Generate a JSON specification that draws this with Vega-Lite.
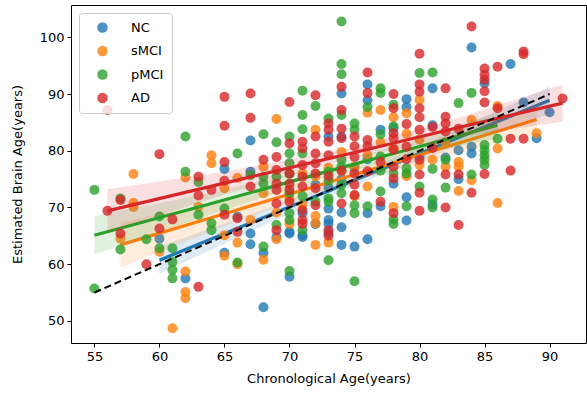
{
"$schema":"https://vega.github.io/schema/vega-lite/v6.json",
"width":515,"height":338,
"autosize":{"type":"none"},
"padding":{"left":71,"top":5,"right":1,"bottom":52},
"config":{"font":"DejaVu Sans","view":{"stroke":"black","strokeWidth":1},
"axis":{"domain":false,"grid":false,"tickColor":"black","tickSize":4,"tickWidth":1,"labelColor":"black","labelFontSize":13,"titleFontSize":13,"titleFontWeight":"normal","titleColor":"black","labelPadding":3},
"legend":{"orient":"top-left","offset":8,"padding":8,"symbolOffset":9,"labelOffset":22,"rowPadding":9.5,"symbolSize":110,"symbolOpacity":0.8,"symbolStrokeWidth":0,"symbolType":"circle","labelFontSize":13,"labelColor":"black","fillColor":"rgba(255,255,255,0.8)","strokeColor":"#cccccc","cornerRadius":3}},
"datasets":{
"pts":[
{"g":"NC","a":60,"b":64.5},{"g":"NC","a":62,"b":57.5},{"g":"NC","a":65,"b":76.8},{"g":"NC","a":65,"b":62.0},{"g":"NC","a":66,"b":68.4},{"g":"NC","a":67,"b":81.8},{"g":"NC","a":67,"b":76.3},{"g":"NC","a":67,"b":65.4},{"g":"NC","a":67,"b":63.5},{"g":"NC","a":68,"b":62.0},{"g":"NC","a":68,"b":52.4},{"g":"NC","a":69,"b":64.8},{"g":"NC","a":70,"b":65.4},{"g":"NC","a":70,"b":57.8},{"g":"NC","a":70,"b":65.7},{"g":"NC","a":71,"b":69.0},{"g":"NC","a":71,"b":64.8},{"g":"NC","a":71,"b":65.1},{"g":"NC","a":72,"b":67.1},{"g":"NC","a":72,"b":74.0},{"g":"NC","a":73,"b":82.5},{"g":"NC","a":73,"b":69.8},{"g":"NC","a":73,"b":67.8},{"g":"NC","a":73,"b":67.1},{"g":"NC","a":73,"b":73.5},{"g":"NC","a":73,"b":65.5},{"g":"NC","a":74,"b":90.1},{"g":"NC","a":74,"b":82.5},{"g":"NC","a":74,"b":69.1},{"g":"NC","a":74,"b":66.5},{"g":"NC","a":74,"b":63.4},{"g":"NC","a":74,"b":75.0},{"g":"NC","a":75,"b":63.1},{"g":"NC","a":75,"b":77.0},{"g":"NC","a":76,"b":91.7},{"g":"NC","a":76,"b":88.9},{"g":"NC","a":76,"b":69.0},{"g":"NC","a":76,"b":64.4},{"g":"NC","a":76,"b":78.5},{"g":"NC","a":77,"b":83.7},{"g":"NC","a":77,"b":70.2},{"g":"NC","a":78,"b":74.2},{"g":"NC","a":78,"b":84.0},{"g":"NC","a":79,"b":89.1},{"g":"NC","a":79,"b":87.7},{"g":"NC","a":79,"b":71.8},{"g":"NC","a":79,"b":67.7},{"g":"NC","a":80,"b":79.0},{"g":"NC","a":81,"b":91.0},{"g":"NC","a":81,"b":84.5},{"g":"NC","a":81,"b":70.5},{"g":"NC","a":82,"b":78.8},{"g":"NC","a":83,"b":80.1},{"g":"NC","a":83,"b":75.0},{"g":"NC","a":84,"b":98.2},{"g":"NC","a":84,"b":80.7},{"g":"NC","a":84,"b":79.5},{"g":"NC","a":85,"b":91.9},{"g":"NC","a":87,"b":95.3},{"g":"NC","a":88,"b":88.5},{"g":"NC","a":89,"b":82.2},{"g":"NC","a":90,"b":86.8},
{"g":"sMCI","a":57,"b":64.5},{"g":"sMCI","a":58,"b":75.9},{"g":"sMCI","a":58,"b":70.8},{"g":"sMCI","a":58,"b":70.1},{"g":"sMCI","a":60,"b":62.2},{"g":"sMCI","a":61,"b":48.7},{"g":"sMCI","a":62,"b":75.3},{"g":"sMCI","a":62,"b":58.7},{"g":"sMCI","a":62,"b":55.1},{"g":"sMCI","a":62,"b":54.0},{"g":"sMCI","a":63,"b":70.1},{"g":"sMCI","a":64,"b":79.2},{"g":"sMCI","a":64,"b":77.8},{"g":"sMCI","a":65,"b":73.4},{"g":"sMCI","a":65,"b":65.1},{"g":"sMCI","a":65,"b":61.5},{"g":"sMCI","a":66,"b":75.2},{"g":"sMCI","a":66,"b":63.8},{"g":"sMCI","a":66,"b":60.0},{"g":"sMCI","a":67,"b":67.8},{"g":"sMCI","a":68,"b":77.2},{"g":"sMCI","a":68,"b":72.5},{"g":"sMCI","a":68,"b":60.8},{"g":"sMCI","a":69,"b":85.6},{"g":"sMCI","a":69,"b":69.1},{"g":"sMCI","a":69,"b":64.4},{"g":"sMCI","a":70,"b":67.1},{"g":"sMCI","a":70,"b":71.5},{"g":"sMCI","a":71,"b":76.0},{"g":"sMCI","a":71,"b":70.5},{"g":"sMCI","a":72,"b":83.7},{"g":"sMCI","a":72,"b":68.5},{"g":"sMCI","a":72,"b":63.4},{"g":"sMCI","a":72,"b":75.5},{"g":"sMCI","a":72,"b":67.2},{"g":"sMCI","a":73,"b":77.0},{"g":"sMCI","a":73,"b":63.8},{"g":"sMCI","a":74,"b":79.8},{"g":"sMCI","a":74,"b":76.5},{"g":"sMCI","a":75,"b":77.2},{"g":"sMCI","a":75,"b":72.0},{"g":"sMCI","a":76,"b":86.7},{"g":"sMCI","a":76,"b":79.2},{"g":"sMCI","a":76,"b":73.7},{"g":"sMCI","a":77,"b":87.2},{"g":"sMCI","a":77,"b":81.5},{"g":"sMCI","a":78,"b":85.9},{"g":"sMCI","a":78,"b":80.5},{"g":"sMCI","a":78,"b":70.1},{"g":"sMCI","a":79,"b":86.6},{"g":"sMCI","a":79,"b":83.0},{"g":"sMCI","a":79,"b":75.5},{"g":"sMCI","a":80,"b":89.0},{"g":"sMCI","a":80,"b":82.0},{"g":"sMCI","a":80,"b":77.5},{"g":"sMCI","a":81,"b":78.4},{"g":"sMCI","a":82,"b":81.5},{"g":"sMCI","a":82,"b":77.2},{"g":"sMCI","a":83,"b":78.0},{"g":"sMCI","a":83,"b":77.2},{"g":"sMCI","a":83,"b":72.9},{"g":"sMCI","a":84,"b":85.4},{"g":"sMCI","a":84,"b":74.8},{"g":"sMCI","a":86,"b":87.9},{"g":"sMCI","a":86,"b":80.4},{"g":"sMCI","a":86,"b":70.8},{"g":"sMCI","a":89,"b":83.1},
{"g":"pMCI","a":55,"b":73.1},{"g":"pMCI","a":55,"b":55.7},{"g":"pMCI","a":57,"b":71.6},{"g":"pMCI","a":57,"b":62.6},{"g":"pMCI","a":59,"b":64.4},{"g":"pMCI","a":60,"b":68.4},{"g":"pMCI","a":60,"b":62.8},{"g":"pMCI","a":61,"b":62.8},{"g":"pMCI","a":61,"b":60.4},{"g":"pMCI","a":61,"b":59.0},{"g":"pMCI","a":61,"b":57.5},{"g":"pMCI","a":62,"b":82.5},{"g":"pMCI","a":62,"b":76.3},{"g":"pMCI","a":63,"b":74.5},{"g":"pMCI","a":63,"b":68.7},{"g":"pMCI","a":64,"b":67.2},{"g":"pMCI","a":64,"b":66.0},{"g":"pMCI","a":65,"b":69.8},{"g":"pMCI","a":66,"b":79.5},{"g":"pMCI","a":66,"b":60.3},{"g":"pMCI","a":67,"b":75.7},{"g":"pMCI","a":68,"b":82.9},{"g":"pMCI","a":68,"b":75.4},{"g":"pMCI","a":68,"b":74.2},{"g":"pMCI","a":68,"b":63.1},{"g":"pMCI","a":69,"b":81.5},{"g":"pMCI","a":69,"b":66.9},{"g":"pMCI","a":69,"b":75.4},{"g":"pMCI","a":70,"b":82.5},{"g":"pMCI","a":70,"b":79.5},{"g":"pMCI","a":70,"b":77.8},{"g":"pMCI","a":70,"b":72.5},{"g":"pMCI","a":70,"b":69.0},{"g":"pMCI","a":70,"b":67.8},{"g":"pMCI","a":70,"b":58.8},{"g":"pMCI","a":70,"b":75.9},{"g":"pMCI","a":71,"b":90.6},{"g":"pMCI","a":71,"b":86.3},{"g":"pMCI","a":71,"b":83.8},{"g":"pMCI","a":71,"b":79.5},{"g":"pMCI","a":71,"b":66.0},{"g":"pMCI","a":71,"b":72.0},{"g":"pMCI","a":72,"b":87.9},{"g":"pMCI","a":72,"b":71.0},{"g":"pMCI","a":73,"b":85.7},{"g":"pMCI","a":73,"b":76.3},{"g":"pMCI","a":73,"b":74.7},{"g":"pMCI","a":73,"b":71.6},{"g":"pMCI","a":73,"b":71.0},{"g":"pMCI","a":73,"b":60.7},{"g":"pMCI","a":74,"b":102.8},{"g":"pMCI","a":74,"b":95.3},{"g":"pMCI","a":74,"b":93.5},{"g":"pMCI","a":74,"b":86.3},{"g":"pMCI","a":74,"b":78.4},{"g":"pMCI","a":74,"b":77.2},{"g":"pMCI","a":74,"b":72.5},{"g":"pMCI","a":74,"b":74.0},{"g":"pMCI","a":75,"b":84.8},{"g":"pMCI","a":75,"b":83.7},{"g":"pMCI","a":75,"b":70.4},{"g":"pMCI","a":75,"b":69.0},{"g":"pMCI","a":75,"b":57.0},{"g":"pMCI","a":76,"b":87.7},{"g":"pMCI","a":76,"b":70.2},{"g":"pMCI","a":77,"b":91.0},{"g":"pMCI","a":77,"b":90.2},{"g":"pMCI","a":77,"b":82.9},{"g":"pMCI","a":77,"b":79.0},{"g":"pMCI","a":77,"b":76.5},{"g":"pMCI","a":77,"b":72.8},{"g":"pMCI","a":78,"b":88.1},{"g":"pMCI","a":78,"b":84.3},{"g":"pMCI","a":78,"b":76.0},{"g":"pMCI","a":78,"b":67.9},{"g":"pMCI","a":78,"b":67.1},{"g":"pMCI","a":79,"b":76.9},{"g":"pMCI","a":79,"b":76.0},{"g":"pMCI","a":79,"b":70.2},{"g":"pMCI","a":80,"b":93.7},{"g":"pMCI","a":80,"b":73.7},{"g":"pMCI","a":81,"b":93.8},{"g":"pMCI","a":81,"b":76.8},{"g":"pMCI","a":81,"b":71.4},{"g":"pMCI","a":81,"b":70.0},{"g":"pMCI","a":82,"b":78.4},{"g":"pMCI","a":82,"b":73.5},{"g":"pMCI","a":83,"b":88.4},{"g":"pMCI","a":84,"b":90.2},{"g":"pMCI","a":84,"b":75.8},{"g":"pMCI","a":85,"b":81.0},{"g":"pMCI","a":85,"b":80.1},{"g":"pMCI","a":85,"b":79.2},{"g":"pMCI","a":85,"b":78.4},{"g":"pMCI","a":85,"b":77.5},{"g":"pMCI","a":86,"b":82.1},
{"g":"AD","a":56,"b":87.2},{"g":"AD","a":56,"b":69.4},{"g":"AD","a":57,"b":71.3},{"g":"AD","a":57,"b":65.4},{"g":"AD","a":59,"b":60.0},{"g":"AD","a":60,"b":79.4},{"g":"AD","a":60,"b":66.3},{"g":"AD","a":61,"b":67.9},{"g":"AD","a":63,"b":75.4},{"g":"AD","a":63,"b":72.1},{"g":"AD","a":63,"b":56.0},{"g":"AD","a":64,"b":73.1},{"g":"AD","a":65,"b":89.5},{"g":"AD","a":65,"b":84.4},{"g":"AD","a":65,"b":78.0},{"g":"AD","a":65,"b":74.7},{"g":"AD","a":65,"b":68.7},{"g":"AD","a":66,"b":68.1},{"g":"AD","a":66,"b":65.7},{"g":"AD","a":67,"b":90.1},{"g":"AD","a":67,"b":85.8},{"g":"AD","a":67,"b":73.7},{"g":"AD","a":68,"b":78.4},{"g":"AD","a":69,"b":78.9},{"g":"AD","a":69,"b":76.6},{"g":"AD","a":69,"b":74.2},{"g":"AD","a":69,"b":73.1},{"g":"AD","a":69,"b":70.7},{"g":"AD","a":69,"b":66.0},{"g":"AD","a":70,"b":88.6},{"g":"AD","a":70,"b":81.3},{"g":"AD","a":70,"b":76.0},{"g":"AD","a":70,"b":74.2},{"g":"AD","a":70,"b":73.1},{"g":"AD","a":70,"b":71.0},{"g":"AD","a":71,"b":81.6},{"g":"AD","a":71,"b":80.4},{"g":"AD","a":71,"b":77.5},{"g":"AD","a":71,"b":75.4},{"g":"AD","a":71,"b":73.7},{"g":"AD","a":71,"b":67.8},{"g":"AD","a":71,"b":67.1},{"g":"AD","a":71,"b":69.5},{"g":"AD","a":72,"b":89.8},{"g":"AD","a":72,"b":82.5},{"g":"AD","a":72,"b":79.5},{"g":"AD","a":72,"b":77.8},{"g":"AD","a":72,"b":76.0},{"g":"AD","a":72,"b":73.4},{"g":"AD","a":72,"b":70.4},{"g":"AD","a":73,"b":84.8},{"g":"AD","a":73,"b":83.7},{"g":"AD","a":73,"b":81.6},{"g":"AD","a":73,"b":79.2},{"g":"AD","a":73,"b":75.5},{"g":"AD","a":73,"b":66.0},{"g":"AD","a":73,"b":65.0},{"g":"AD","a":74,"b":91.3},{"g":"AD","a":74,"b":87.2},{"g":"AD","a":74,"b":83.9},{"g":"AD","a":74,"b":82.2},{"g":"AD","a":74,"b":76.5},{"g":"AD","a":74,"b":70.7},{"g":"AD","a":75,"b":82.5},{"g":"AD","a":75,"b":80.8},{"g":"AD","a":75,"b":78.9},{"g":"AD","a":75,"b":76.0},{"g":"AD","a":75,"b":74.0},{"g":"AD","a":75,"b":72.2},{"g":"AD","a":76,"b":93.8},{"g":"AD","a":76,"b":90.2},{"g":"AD","a":76,"b":81.9},{"g":"AD","a":76,"b":80.8},{"g":"AD","a":76,"b":76.4},{"g":"AD","a":77,"b":78.0},{"g":"AD","a":77,"b":71.0},{"g":"AD","a":78,"b":90.0},{"g":"AD","a":78,"b":87.5},{"g":"AD","a":78,"b":83.1},{"g":"AD","a":78,"b":82.2},{"g":"AD","a":78,"b":80.2},{"g":"AD","a":78,"b":77.2},{"g":"AD","a":78,"b":75.1},{"g":"AD","a":78,"b":69.0},{"g":"AD","a":79,"b":84.7},{"g":"AD","a":79,"b":80.7},{"g":"AD","a":79,"b":78.5},{"g":"AD","a":80,"b":97.1},{"g":"AD","a":80,"b":91.7},{"g":"AD","a":80,"b":90.4},{"g":"AD","a":80,"b":87.5},{"g":"AD","a":80,"b":85.9},{"g":"AD","a":80,"b":83.7},{"g":"AD","a":80,"b":78.4},{"g":"AD","a":80,"b":75.8},{"g":"AD","a":80,"b":72.6},{"g":"AD","a":80,"b":69.4},{"g":"AD","a":81,"b":84.2},{"g":"AD","a":81,"b":80.5},{"g":"AD","a":82,"b":91.0},{"g":"AD","a":82,"b":86.0},{"g":"AD","a":82,"b":84.8},{"g":"AD","a":82,"b":83.4},{"g":"AD","a":82,"b":75.8},{"g":"AD","a":82,"b":70.0},{"g":"AD","a":83,"b":83.9},{"g":"AD","a":83,"b":75.8},{"g":"AD","a":83,"b":66.9},{"g":"AD","a":84,"b":101.9},{"g":"AD","a":84,"b":72.6},{"g":"AD","a":85,"b":94.5},{"g":"AD","a":85,"b":93.4},{"g":"AD","a":85,"b":92.5},{"g":"AD","a":85,"b":90.5},{"g":"AD","a":85,"b":88.5},{"g":"AD","a":85,"b":75.9},{"g":"AD","a":86,"b":94.8},{"g":"AD","a":86,"b":87.5},{"g":"AD","a":87,"b":82.1},{"g":"AD","a":87,"b":76.5},{"g":"AD","a":88,"b":97.5},{"g":"AD","a":88,"b":97.0},{"g":"AD","a":88,"b":82.1},{"g":"AD","a":91,"b":89.2}
],
"fit":[
{"g":"NC","a":60,"b":60.7,"lo":58.3,"hi":63.1},{"g":"NC","a":67.5,"b":67.75,"lo":66.3,"hi":69.2},{"g":"NC","a":75,"b":74.8,"lo":73.9,"hi":75.7},{"g":"NC","a":82.5,"b":81.85,"lo":80.4,"hi":83.3},{"g":"NC","a":90,"b":88.9,"lo":86.5,"hi":91.3},
{"g":"sMCI","a":57,"b":63.4,"lo":59.4,"hi":67.4},{"g":"sMCI","a":65,"b":68.9,"lo":66.7,"hi":71.1},{"g":"sMCI","a":74,"b":75.1,"lo":74.1,"hi":76.1},{"g":"sMCI","a":82,"b":80.65,"lo":79.0,"hi":82.3},{"g":"sMCI","a":89,"b":85.5,"lo":82.9,"hi":88.1},
{"g":"pMCI","a":55,"b":65.1,"lo":61.7,"hi":68.5},{"g":"pMCI","a":64,"b":70.7,"lo":68.8,"hi":72.6},{"g":"pMCI","a":73,"b":76.4,"lo":75.5,"hi":77.3},{"g":"pMCI","a":80,"b":80.75,"lo":79.35,"hi":82.15},{"g":"pMCI","a":86,"b":84.5,"lo":82.2,"hi":86.8},
{"g":"AD","a":56,"b":69.4,"lo":65.6,"hi":73.2},{"g":"AD","a":65,"b":74.3,"lo":72.3,"hi":76.3},{"g":"AD","a":75,"b":79.7,"lo":78.8,"hi":80.6},{"g":"AD","a":83,"b":84.1,"lo":82.4,"hi":85.8},{"g":"AD","a":91,"b":88.4,"lo":85.1,"hi":91.7}
],
"ident":[{"a":55,"b":55},{"a":90,"b":90}]
},
"encoding":{
"x":{"field":"a","type":"quantitative","scale":{"domain":[53.2,92.8],"nice":false,"zero":false},"axis":{"values":[55,60,65,70,75,80,85,90],"title":"Chronological Age(years)","titlePadding":9}},
"y":{"field":"b","type":"quantitative","scale":{"domain":[46.1,105.7],"nice":false,"zero":false},"axis":{"values":[50,60,70,80,90,100],"title":"Estimated Brain Age(years)","titlePadding":15}}
},
"layer":[
{"data":{"name":"pts"},"transform":[{"filter":"datum.g==='NC'"}],"mark":{"type":"point","filled":true,"opacity":0.8,"size":100,"strokeWidth":0},"encoding":{"color":{"field":"g","type":"nominal","scale":{"domain":["NC","sMCI","pMCI","AD"],"range":["#1f77b4","#ff7f0e","#2ca02c","#d62728"]},"legend":{"title":null}}}},
{"data":{"name":"fit"},"transform":[{"filter":"datum.g==='NC'"}],"mark":{"type":"area","color":"#1f77b4","opacity":0.15},"encoding":{"y":{"field":"lo","type":"quantitative"},"y2":{"field":"hi"}}},
{"data":{"name":"fit"},"transform":[{"filter":"datum.g==='NC'"}],"mark":{"type":"line","color":"#1f77b4","strokeWidth":3.2},"encoding":{}},
{"data":{"name":"pts"},"transform":[{"filter":"datum.g==='sMCI'"}],"mark":{"type":"point","filled":true,"opacity":0.8,"size":100,"strokeWidth":0},"encoding":{"color":{"field":"g","type":"nominal","scale":{"domain":["NC","sMCI","pMCI","AD"],"range":["#1f77b4","#ff7f0e","#2ca02c","#d62728"]},"legend":{"title":null}}}},
{"data":{"name":"fit"},"transform":[{"filter":"datum.g==='sMCI'"}],"mark":{"type":"area","color":"#ff7f0e","opacity":0.15},"encoding":{"y":{"field":"lo","type":"quantitative"},"y2":{"field":"hi"}}},
{"data":{"name":"fit"},"transform":[{"filter":"datum.g==='sMCI'"}],"mark":{"type":"line","color":"#ff7f0e","strokeWidth":3.2},"encoding":{}},
{"data":{"name":"pts"},"transform":[{"filter":"datum.g==='pMCI'"}],"mark":{"type":"point","filled":true,"opacity":0.8,"size":100,"strokeWidth":0},"encoding":{"color":{"field":"g","type":"nominal","scale":{"domain":["NC","sMCI","pMCI","AD"],"range":["#1f77b4","#ff7f0e","#2ca02c","#d62728"]},"legend":{"title":null}}}},
{"data":{"name":"fit"},"transform":[{"filter":"datum.g==='pMCI'"}],"mark":{"type":"area","color":"#2ca02c","opacity":0.15},"encoding":{"y":{"field":"lo","type":"quantitative"},"y2":{"field":"hi"}}},
{"data":{"name":"fit"},"transform":[{"filter":"datum.g==='pMCI'"}],"mark":{"type":"line","color":"#2ca02c","strokeWidth":3.2},"encoding":{}},
{"data":{"name":"pts"},"transform":[{"filter":"datum.g==='AD'"}],"mark":{"type":"point","filled":true,"opacity":0.8,"size":100,"strokeWidth":0},"encoding":{"color":{"field":"g","type":"nominal","scale":{"domain":["NC","sMCI","pMCI","AD"],"range":["#1f77b4","#ff7f0e","#2ca02c","#d62728"]},"legend":{"title":null}}}},
{"data":{"name":"fit"},"transform":[{"filter":"datum.g==='AD'"}],"mark":{"type":"area","color":"#d62728","opacity":0.15},"encoding":{"y":{"field":"lo","type":"quantitative"},"y2":{"field":"hi"}}},
{"data":{"name":"fit"},"transform":[{"filter":"datum.g==='AD'"}],"mark":{"type":"line","color":"#d62728","strokeWidth":3.2},"encoding":{}},
{"data":{"name":"ident"},"mark":{"type":"line","color":"black","strokeWidth":2,"strokeDash":[7,4]},"encoding":{}}
]
}
